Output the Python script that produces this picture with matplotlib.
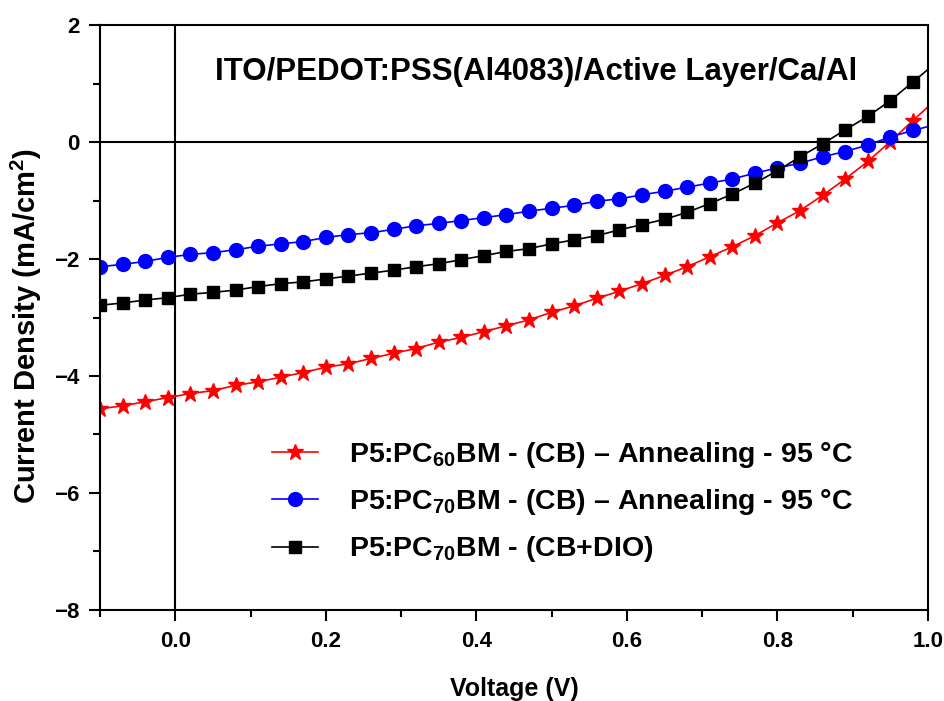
import numpy as np
import matplotlib
matplotlib.use('Agg')
import matplotlib.pyplot as plt
from matplotlib.ticker import MultipleLocator

plt.rcParams['font.family'] = ['Liberation Sans', 'DejaVu Sans']
plt.rcParams['font.weight'] = 'bold'
plt.rcParams['mathtext.fontset'] = 'custom'
plt.rcParams['mathtext.rm'] = 'Liberation Sans:bold'
plt.rcParams['mathtext.bf'] = 'Liberation Sans:bold'
plt.rcParams['mathtext.it'] = 'Liberation Sans:bold'

# voltage sweep, -0.1 V to 0.98 V in 0.03 V steps, plus one point past the axis edge
voltage = [round(-0.1 + 0.03 * i, 2) for i in range(37)] + [1.01]

pc60_anneal = [-4.56, -4.51, -4.44, -4.37, -4.30, -4.25, -4.16, -4.10, -4.02, -3.94,
               -3.85, -3.79, -3.70, -3.61, -3.53, -3.42, -3.34, -3.24, -3.14, -3.04,
               -2.91, -2.80, -2.67, -2.55, -2.42, -2.28, -2.13, -1.96, -1.79, -1.60,
               -1.38, -1.17, -0.91, -0.63, -0.33, 0.01, 0.37, 0.72]
pc70_anneal = [-2.13, -2.09, -2.04, -1.97, -1.92, -1.89, -1.84, -1.78, -1.74, -1.70,
               -1.63, -1.58, -1.55, -1.49, -1.43, -1.39, -1.34, -1.29, -1.24, -1.18,
               -1.13, -1.08, -1.01, -0.97, -0.90, -0.84, -0.77, -0.70, -0.63, -0.53,
               -0.44, -0.36, -0.25, -0.16, -0.05, 0.09, 0.20, 0.30]
pc70_dio = [-2.79, -2.75, -2.70, -2.66, -2.60, -2.57, -2.53, -2.47, -2.42, -2.39,
            -2.34, -2.29, -2.24, -2.19, -2.13, -2.08, -2.01, -1.94, -1.87, -1.82,
            -1.74, -1.67, -1.60, -1.50, -1.41, -1.32, -1.20, -1.05, -0.89, -0.70,
            -0.49, -0.25, -0.03, 0.21, 0.44, 0.71, 1.03, 1.35]

labels = [r'P5:PC$_{60}$BM - (CB) – Annealing - 95 °C',
          r'P5:PC$_{70}$BM - (CB) – Annealing - 95 °C',
          r'P5:PC$_{70}$BM - (CB+DIO)']

fig = plt.figure(figsize=(9.44, 7.01), dpi=100)
ax = fig.add_axes([0.106, 0.13, 0.877, 0.834])

marks = slice(0, 37)
ax.plot(voltage, pc60_anneal, color='red', marker='*', markersize=12, lw=1.2,
        markevery=marks, label=labels[0])
ax.plot(voltage, pc70_anneal, color='blue', marker='o', markersize=10, lw=1.2,
        markevery=marks, label=labels[1])
ax.plot(voltage, pc70_dio, color='black', marker='s', markersize=8, lw=1.2,
        markevery=marks, label=labels[2])

ax.axhline(0, color='black', lw=1.5, zorder=0)
ax.axvline(0, color='black', lw=1.5, zorder=0)

ax.set_xlim(-0.1, 1.0)
ax.set_ylim(-8, 2)
ax.set_xticks([0.0, 0.2, 0.4, 0.6, 0.8, 1.0])
ax.xaxis.set_minor_locator(MultipleLocator(0.1))
ax.yaxis.set_major_locator(MultipleLocator(2))
ax.yaxis.set_minor_locator(MultipleLocator(1))
ax.xaxis.set_major_formatter(plt.FuncFormatter(lambda v, p: f'{v:.1f}'))
ax.tick_params(which='both', direction='out', top=False, right=False,
               labelsize=16, width=1.5)
ax.tick_params(which='major', length=8, pad=7)
ax.tick_params(which='minor', length=5)
for s in ax.spines.values():
    s.set_linewidth(1.5)

ax.set_xlabel('Voltage (V)', fontsize=18, fontweight='bold')
ax.xaxis.set_label_coords(0.5, -0.115)
ax.set_ylabel('Current Density (mA/cm$^2$)', fontsize=21, fontweight='bold')
ax.yaxis.set_label_coords(-0.068, 0.485)

ax.text(0.527, 0.92, 'ITO/PEDOT:PSS(Al4083)/Active Layer/Ca/Al', transform=ax.transAxes,
        ha='center', va='center', fontsize=22.5, fontweight='bold')

ax.legend(loc='upper left', bbox_to_anchor=(0.208, 0.29), frameon=False,
          fontsize=20.5, handlelength=1.6, labelspacing=0.6, handletextpad=1.1,
          borderpad=0, borderaxespad=0)

fig.savefig('out.png', dpi=100)
